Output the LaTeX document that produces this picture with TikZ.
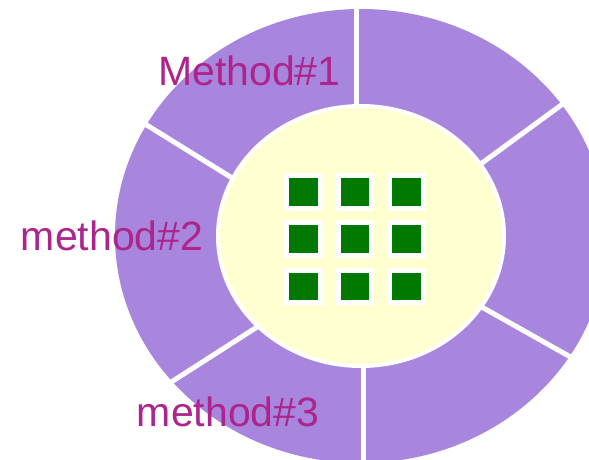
\documentclass[tikz,border=0pt]{standalone}
\usepackage{fontspec}
\setmainfont{Liberation Sans}
\definecolor{ringpurple}{RGB}{168,134,222}
\definecolor{hubyellow}{RGB}{255,255,208}
\definecolor{cellgreen}{RGB}{0,121,0}
\definecolor{labeltext}{RGB}{172,36,140}
\tikzset{
    cellbox/.style={draw=white, line width=5pt, fill=cellgreen, minimum width=33.5pt, minimum height=32.5pt, inner sep=0pt},
    methodlabel/.style={text=labeltext, anchor=base west, inner sep=0pt, font=\fontsize{41}{48}\selectfont}
}
\begin{document}
\begin{tikzpicture}[x=1pt, y=-1pt]
        \useasboundingbox (0,0) rectangle (589,460);
        \clip (0,0) rectangle (589,460);

        \fill [ringpurple] (361,236) ellipse [x radius=246, y radius=227];

        \begin{scope}[white, line width=5pt]
        \draw (356,0) -- (356,130);
        \draw (467,174) -- (575,95);
        \draw (469.6,300.2) -- (584.4,364.8);
        \draw (363,340) -- (363,460);
        \draw (270.8,318.2) -- (154.9,392.5);
        \draw (247,187.2) -- (129.7,114.5);
        \end{scope}

        \filldraw [fill=hubyellow, draw=white, line width=4pt] (361,236) ellipse [x radius=143, y radius=130];

        \node [cellbox] (c11) at (303.7,192) {};
        \node [cellbox] (c12) at (355,192) {};
        \node [cellbox] (c13) at (406.7,192) {};
        \node [cellbox] (c21) at (303.7,239) {};
        \node [cellbox] (c22) at (355,239) {};
        \node [cellbox] (c23) at (406.7,239) {};
        \node [cellbox] (c31) at (303.7,286.5) {};
        \node [cellbox] (c32) at (355,286.5) {};
        \node [cellbox] (c33) at (406.7,286.5) {};

        \node [methodlabel] (m1) at (158,85) {Method\#1};
        \node [methodlabel] (m2) at (20.7,250) {method\#2};
        \node [methodlabel] (m3) at (136.7,426) {method\#3};

\end{tikzpicture}
\end{document}
